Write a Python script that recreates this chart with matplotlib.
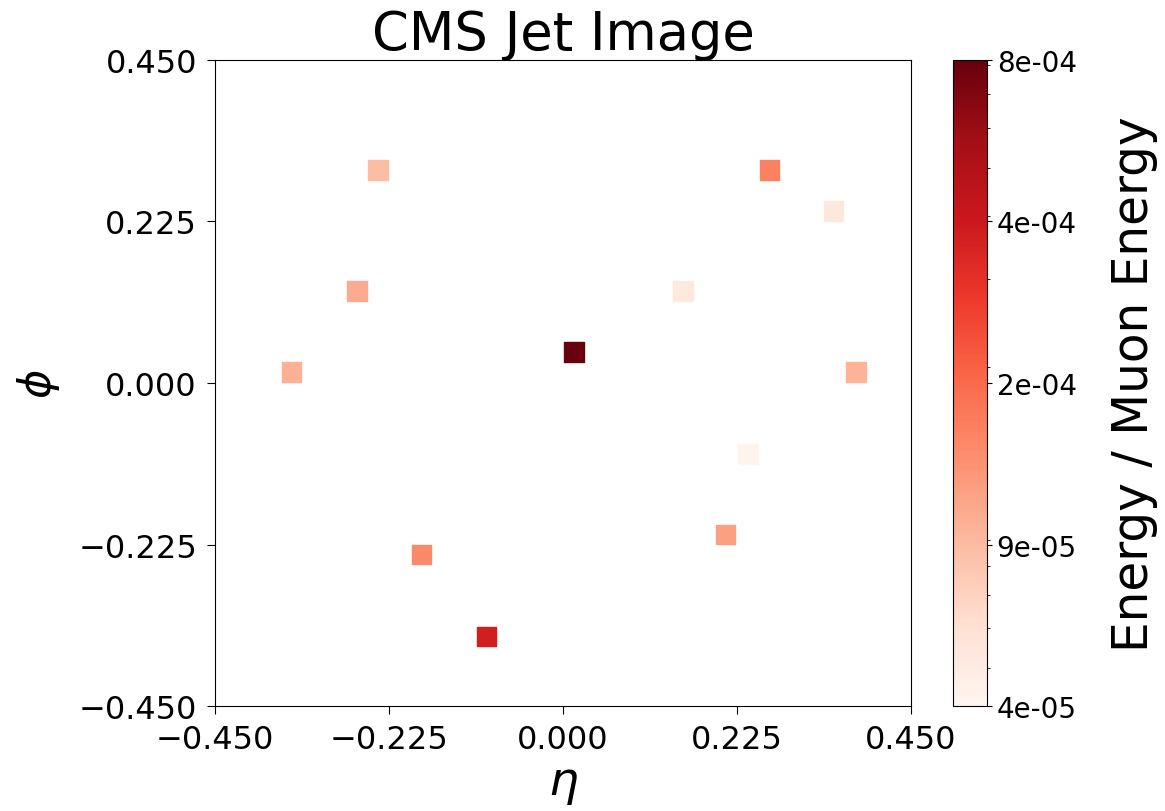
import numpy as np
import matplotlib
matplotlib.use("Agg")
import matplotlib.pyplot as plt
from matplotlib.colors import LogNorm
from matplotlib.ticker import FormatStrFormatter, FuncFormatter

# deposits in the jet image (eta, phi, energy fraction)
eta = [-0.239, -0.266, -0.351, 0.014, 0.267, 0.350, 0.155, 0.379, -0.183, -0.099, 0.239, 0.210]
phi = [0.297, 0.128, 0.015, 0.043, 0.297, 0.240, 0.128, 0.015, -0.239, -0.353, -0.099, -0.211]
energy = [8.7e-5, 1.02e-4, 9.8e-5, 8.1e-4, 1.5e-4, 5.3e-5, 5.2e-5, 9.4e-5, 1.38e-4, 3.67e-4, 4.35e-5, 1.13e-4]

vmin = 4.2e-5
vmax = 8.2e-4
axis_ticks = [-0.45, -0.225, 0.0, 0.225, 0.45]

def fmt3(v, pos):
    return ('%.3f' % v).replace('-', '\u2212')

fig = plt.figure(figsize=(11.65, 8.12), dpi=100)
ax = fig.add_axes([0.1845, 0.1293, 0.5974, 0.7956])
cax = fig.add_axes([0.818, 0.1293, 0.0292, 0.7956])

sc = ax.scatter(eta, phi, c=energy, cmap='Reds', marker='s', s=200,
                norm=LogNorm(vmin=vmin, vmax=vmax))
ax.set_xlim(-0.45, 0.45)
ax.set_ylim(-0.45, 0.45)
ax.set_xticks(axis_ticks)
ax.set_yticks(axis_ticks)
ax.xaxis.set_major_formatter(FuncFormatter(fmt3))
ax.yaxis.set_major_formatter(FuncFormatter(fmt3))
ax.tick_params(labelsize=23, length=6, pad=7)
ax.set_title('CMS Jet Image', fontsize=38, pad=5)
ax.set_xlabel(r'$\eta$', fontsize=34)
ax.set_ylabel(r'$\phi$', fontsize=32)
ax.xaxis.set_label_coords(0.5, -0.085)
ax.yaxis.set_label_coords(-0.22, 0.5)

cbar = fig.colorbar(sc, cax=cax)
cbar.set_ticks(np.geomspace(vmin, vmax, 5))
cbar.ax.yaxis.set_major_formatter(FormatStrFormatter('%.0e'))
cbar.ax.tick_params(labelsize=20)
cbar.set_label('Energy / Muon Energy', fontsize=35, labelpad=24)

plt.savefig('out.png', dpi=100)
